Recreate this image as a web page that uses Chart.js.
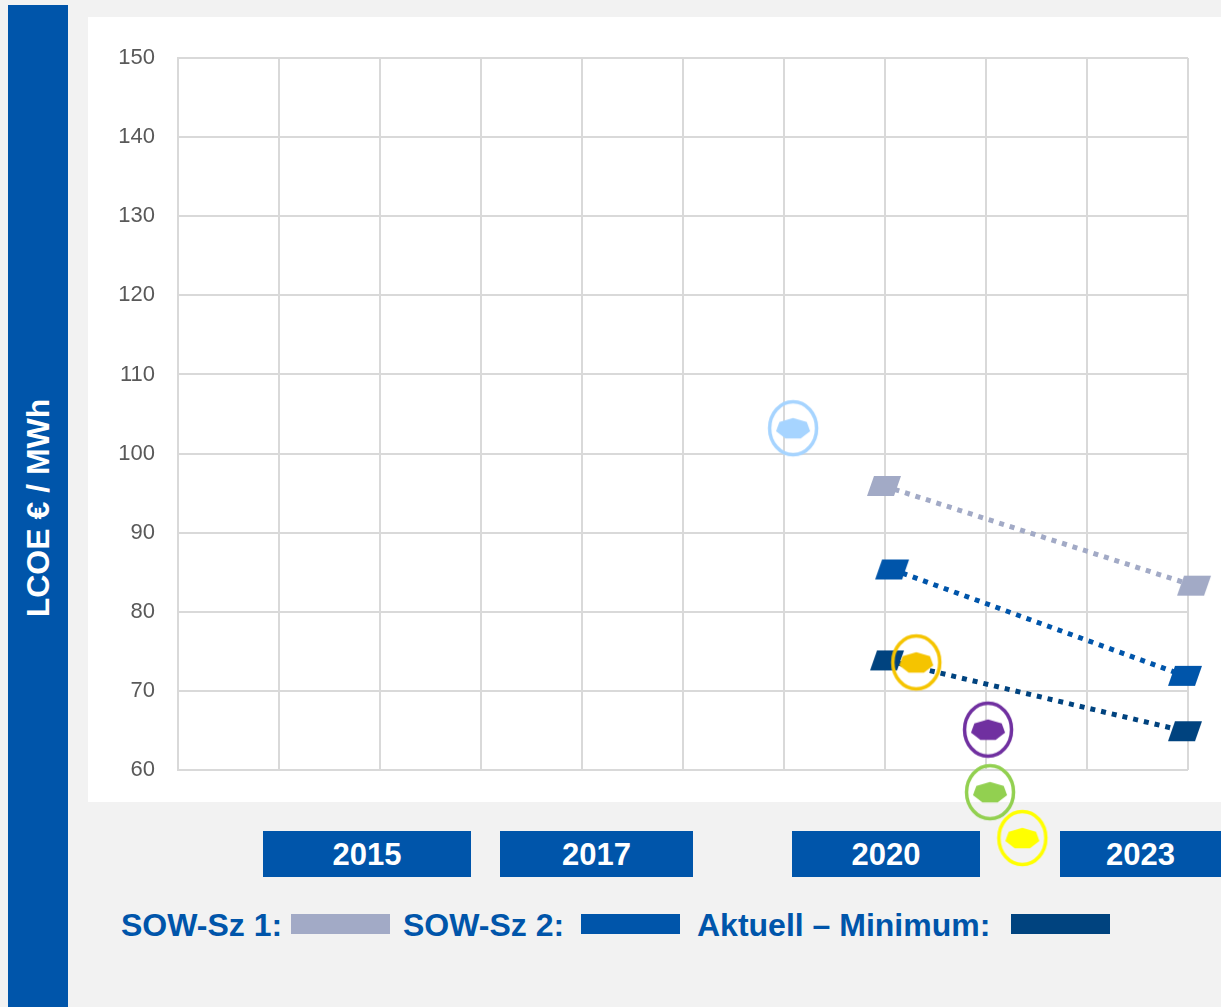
<!DOCTYPE html>
<html>
<head>
<meta charset="utf-8">
<script src="https://cdn.jsdelivr.net/npm/chart.js@4/dist/chart.umd.min.js"></script>
<style>
  html, body { margin:0; padding:0; }
  body { width:1221px; height:1007px; background:#f2f2f2; position:relative; overflow:hidden; font-family:"Liberation Sans", Arial, sans-serif; }
  #bar { position:absolute; left:8px; top:5px; width:60px; height:1002px; background:#0055aa; }
  #plotbg { position:absolute; left:88px; top:17px; width:1133px; height:785px; background:#ffffff; }
  #ytitle { position:absolute; left:38px; top:508px; transform:translate(-50%,-50%) rotate(-90deg); color:#fff; font-weight:bold; font-size:32px; white-space:nowrap; line-height:1; }
  .year { position:absolute; top:831px; height:46px; background:#0055aa; color:#fff; font-weight:bold; font-size:31px; line-height:1; display:flex; align-items:center; justify-content:center; }
  .leg { position:absolute; top:909px; color:#0055aa; font-weight:bold; font-size:32px; line-height:1; white-space:nowrap; }
  .sw { position:absolute; top:914px; height:20px; width:99px; }
  canvas { position:absolute; left:0; top:0; }
</style>
</head>
<body>
<div id="bar"></div>
<div id="plotbg"></div>
<div id="ytitle"></div>
<div id="years"></div>
<div id="legend"></div>
<canvas id="c" width="1221" height="1007"></canvas>
<script>
// ---- data ----
const yMin = 60, yMax = 150, yStep = 10;
const xMin = 0, xMax = 10;
const yearLabels = ['2015', '2017', '2020', '2023'];
const legendLabels = ['SOW-Sz 1:', 'SOW-Sz 2:', 'Aktuell – Minimum:'];
const yTitle = 'LCOE € / MWh';

const sz1X = [6.99, 10.06];
const sz1Y = [95.9, 83.3];
const sz2X = [7.07, 9.97];
const sz2Y = [85.35, 71.9];
const minX = [7.02, 9.97];
const minY = [73.85, 64.9];

const ringX = [6.09, 7.31, 8.02, 8.04, 8.36];
const ringY = [103.2, 73.6, 65.1, 57.2, 51.4];

// ---- styles ----
const ringColors = ['#a6d4ff', '#f5c400', '#7030a0', '#92d050', '#ffff00'];
const lineColors = ['#a2aac6', '#0055aa', '#00437f'];
const yearBoxes = [[263, 208], [500, 193], [792, 188], [1060, 161]];
const legendTextX = [121, 403, 697];
const legendSwX = [291, 581, 1011];

// HTML decorations
const yearsDiv = document.getElementById('years');
yearLabels.forEach((t, i) => {
  const d = document.createElement('div');
  d.className = 'year';
  d.style.left = yearBoxes[i][0] + 'px';
  d.style.width = yearBoxes[i][1] + 'px';
  d.textContent = t;
  yearsDiv.appendChild(d);
});
const legDiv = document.getElementById('legend');
legendLabels.forEach((t, i) => {
  const d = document.createElement('div');
  d.className = 'leg';
  d.style.left = legendTextX[i] + 'px';
  d.textContent = t;
  legDiv.appendChild(d);
  const s = document.createElement('div');
  s.className = 'sw';
  s.style.left = legendSwX[i] + 'px';
  s.style.background = lineColors[i];
  legDiv.appendChild(s);
});
document.getElementById('ytitle').textContent = yTitle;

// marker images
function ringMarker(color) {
  const c = document.createElement('canvas');
  c.width = 56; c.height = 60;
  const g = c.getContext('2d');
  const cx = 28, cy = 30;
  g.strokeStyle = color; g.lineWidth = 3.5;
  g.beginPath(); g.ellipse(cx, cy, 23.5, 26.5, 0, 0, Math.PI * 2); g.stroke();
  g.fillStyle = color;
  g.beginPath();
  for (let k = 0; k < 7; k++) {
    const a = -Math.PI / 2 + k * 2 * Math.PI / 7;
    const px = cx + 17.5 * Math.cos(a);
    const py = cy + 0.5 + 10.8 * Math.sin(a);
    k ? g.lineTo(px, py) : g.moveTo(px, py);
  }
  g.closePath(); g.fill();
  return c;
}
function paraMarker(color) {
  const c = document.createElement('canvas');
  c.width = 36; c.height = 22;
  const g = c.getContext('2d');
  g.fillStyle = color;
  g.beginPath();
  g.moveTo(8, 1); g.lineTo(35, 1); g.lineTo(28, 21); g.lineTo(1, 21);
  g.closePath(); g.fill();
  return c;
}
const pts = (xs, ys) => xs.map((x, i) => ({ x, y: ys[i] }));

const datasets = [];
ringX.forEach((x, i) => {
  datasets.push({
    data: [{ x, y: ringY[i] }],
    pointStyle: ringMarker(ringColors[i]),
    pointRadius: 160,
    pointHoverRadius: 160,
    pointBorderWidth: 0,
    showLine: false, clip: false
  });
});
[[sz1X, sz1Y], [sz2X, sz2Y], [minX, minY]].forEach(([xs, ys], i) => {
  datasets.push({
    data: pts(xs, ys),
    showLine: true,
    borderColor: lineColors[i],
    borderWidth: 5,
    borderDash: [5, 6],
    borderCapStyle: 'butt',
    pointStyle: paraMarker(lineColors[i]),
    pointRadius: 40,
    pointHoverRadius: 40,
    pointBorderWidth: 0,
    clip: false
  });
});

new Chart(document.getElementById('c'), {
  type: 'scatter',
  data: { datasets },
  options: {
    responsive: false,
    animation: false,
    events: [],
    layout: { autoPadding: false, padding: { top: 58, right: 33, left: 0, bottom: 0 } },
    plugins: { legend: { display: false }, tooltip: { enabled: false } },
    scales: {
      x: {
        type: 'linear', min: xMin, max: xMax,
        ticks: { display: false, stepSize: 1 },
        grid: { color: '#d9d9d9', lineWidth: 2, drawTicks: false },
        border: { display: false },
        afterFit: s => { s.height = 237; }
      },
      y: {
        type: 'linear', min: yMin, max: yMax,
        ticks: { stepSize: yStep, padding: 23, color: '#595959', font: { family: 'Liberation Sans', size: 22 } },
        grid: { color: '#d9d9d9', lineWidth: 2, drawTicks: false },
        border: { display: true, color: '#d9d9d9', width: 2 },
        afterFit: s => { s.width = 178; }
      }
    }
  }
});
</script>
</body>
</html>
